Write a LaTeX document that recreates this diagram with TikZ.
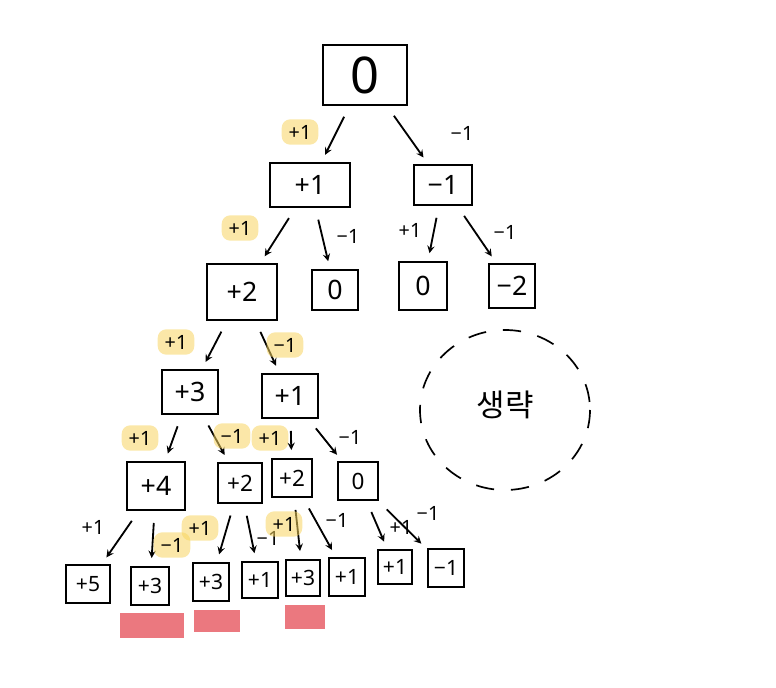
\documentclass[tikz,border=0pt]{standalone}
\usepackage{fontspec}
\setmainfont{Noto Sans}
\newfontfamily\kofont{Noto Sans CJK KR}
\definecolor{hlyellow}{RGB}{247,212,96}
\definecolor{markred}{RGB}{232,96,104}
\begin{document}
\begin{tikzpicture}[x=0.025cm,y=-0.025cm,>=stealth,
    box/.style={draw,line width=1.4pt,inner sep=0pt,font=\fontsize{19}{19}\selectfont},
    leaf/.style={box,minimum width=0.95cm,minimum height=0.95cm,font=\fontsize{15}{15}\selectfont},
    arr/.style={->,line width=1.3pt,shorten <=0.3cm,shorten >=0.2cm},
    lab/.style={font=\fontsize{14}{14}\selectfont,inner sep=2pt},
    hl/.style={lab,fill=hlyellow,fill opacity=0.55,text opacity=1,rounded corners=6pt,inner xsep=5pt,inner ysep=4pt}]
\useasboundingbox (0,0) rectangle (776,688);
% level 0
\node[box,minimum width=2.1cm,minimum height=1.5cm,font=\fontsize{36}{36}\selectfont] (r) at (365,75) {0};
% level 1
\node[box,minimum width=2cm,minimum height=1.1cm] (a1) at (310,185) {+1};
\node[box,minimum width=1.45cm,minimum height=1cm] (a2) at (443,185) {−1};
% level 2
\node[box,minimum width=1.75cm,minimum height=1.4cm] (b1) at (242,292) {+2};
\node[box,minimum width=1.15cm,minimum height=1cm] (b2) at (335,290) {0};
\node[box,minimum width=1.2cm,minimum height=1.2cm] (b3) at (423,286) {0};
\node[box,minimum width=1.15cm,minimum height=1.1cm] (b4) at (512,286) {−2};
% level 3
\node[box,minimum width=1.4cm,minimum height=1.1cm] (c1) at (190,392) {+3};
\node[box,minimum width=1.4cm,minimum height=1.1cm] (c2) at (290,396) {+1};
% level 4
\node[box,minimum width=1.45cm,minimum height=1.2cm] (d1) at (156,486) {+4};
\node[box,minimum width=1.1cm,minimum height=1cm,font=\fontsize{16}{16}\selectfont] (d2) at (240,483) {+2};
\node[box,minimum width=1cm,minimum height=0.95cm,font=\fontsize{16}{16}\selectfont] (d3) at (292,478) {+2};
\node[box,minimum width=1cm,minimum height=0.95cm,font=\fontsize{16}{16}\selectfont] (d4) at (358,481) {0};
% level 5
\node[leaf,minimum width=1.1cm] (e1) at (88,584) {+5};
\node[leaf] (e2) at (150,586) {+3};
\node[leaf,minimum width=0.9cm] (e3) at (211,582) {+3};
\node[leaf,minimum width=0.9cm,minimum height=0.9cm] (e4) at (260,580) {+1};
\node[leaf,minimum width=0.85cm,minimum height=0.9cm] (e5) at (303,578) {+3};
\node[leaf,minimum width=0.9cm] (e6) at (347,577) {+1};
\node[leaf,minimum width=0.85cm,minimum height=0.85cm] (e7) at (395,567) {+1};
\node[leaf,minimum width=0.9cm] (e8) at (446,568) {−1};
% arrows
\draw[arr] (r) -- (a1);
\draw[arr] (r) -- (a2);
\draw[arr] (a1) -- (b1);
\draw[arr] (a1) -- (b2);
\draw[arr] (a2) -- (b3);
\draw[arr] (a2) -- (b4);
\draw[arr] (b1) -- (c1);
\draw[arr] (b1) -- (c2);
\draw[arr] (c1) -- (d1);
\draw[arr] (c1) -- (d2);
\draw[arr] (c2) -- (d3);
\draw[arr] (c2) -- (d4);
\draw[arr] (d1) -- (e1);
\draw[arr] (d1) -- (e2);
\draw[arr] (d2) -- (e3);
\draw[arr] (d2) -- (e4);
\draw[arr] (d3) -- (e5);
\draw[arr] (d3) -- (e6);
\draw[arr] (d4) -- (e7);
\draw[arr] (d4) -- (e8);
% labels
\node[hl] (l1) at (300,132) {+1};
\node[lab] (l2) at (462,133) {−1};
\node[hl] (l3) at (240,228) {+1};
\node[lab] (l4) at (348,236) {−1};
\node[lab] (l5) at (410,230) {+1};
\node[lab] (l6) at (505,232) {−1};
\node[hl] (l7) at (176,342) {+1};
\node[hl] (l8) at (285,345) {−1};
\node[hl] (l9) at (140,438) {+1};
\node[hl] (l10) at (232,436) {−1};
\node[hl] (l11) at (270,438) {+1};
\node[lab] (l12) at (350,437) {−1};
\node[lab] (l13) at (93,527) {+1};
\node[hl] (l14) at (172,545) {−1};
\node[hl] (l15) at (200,528) {+1};
\node[lab] (l16) at (268,538) {−1};
\node[hl] (l17) at (284,524) {+1};
\node[lab] (l18) at (337,520) {−1};
\node[lab] (l19) at (401,527) {+1};
\node[lab] (l20) at (428,513) {−1};
% marks under leaves
\fill[markred,opacity=0.85] ([xshift=-0.75cm,yshift=-0.18cm]e2.south) rectangle ++(1.6cm,-0.62cm);
\fill[markred,opacity=0.85] ([xshift=-0.42cm,yshift=-0.2cm]e3.south) rectangle ++(1.15cm,-0.55cm);
\fill[markred,opacity=0.85] ([xshift=-0.45cm,yshift=-0.2cm]e5.south) rectangle ++(1cm,-0.6cm);
% omitted part
\draw[line width=1.2pt,dash pattern=on 13pt off 12pt] (505,410) ellipse (85 and 80);
\node[font=\kofont\fontsize{22}{22}\selectfont] (skip) at (505,405) {생략};
\end{tikzpicture}
\end{document}
